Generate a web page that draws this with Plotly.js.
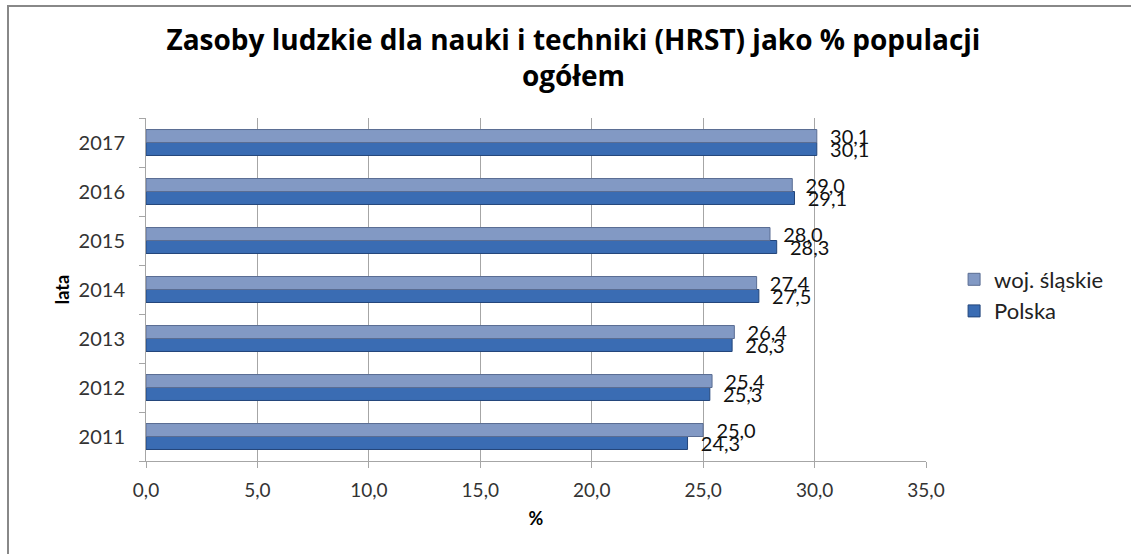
<!DOCTYPE html>
<html>
<head>
<meta charset="utf-8">
<script src="https://cdn.plot.ly/plotly-3.0.1.min.js"></script>
<style>
  html, body { margin: 0; padding: 0; background: #fff; }
  #wrap { position: relative; width: 1131px; height: 554px; overflow: hidden; }
  #chart { position: absolute; left: 0; top: 0; width: 1131px; height: 554px; }
  #frame { position: absolute; left: 7px; top: 5px; width: 1140px; height: 560px;
           border-left: 2px solid #888; border-top: 2px solid #888; pointer-events: none; }
</style>
</head>
<body>
<div id="wrap">
  <div id="chart"></div>
  <div id="frame"></div>
</div>
<script>
const years = ["2011", "2012", "2013", "2014", "2015", "2016", "2017"];
const polska = [24.3, 25.3, 26.3, 27.5, 28.3, 29.1, 30.1];
const slaskie = [25.0, 25.4, 26.4, 27.4, 28.0, 29.0, 30.1];
const xTicks = [0, 5, 10, 15, 20, 25, 30, 35];

const FAM = "Lato, 'Open Sans', sans-serif";
const labelFont = { family: FAM, size: 20, color: "#111" };

const traces = [
  {
    type: "bar", orientation: "h", name: "Polska",
    y: years, x: polska,
    marker: { color: "#3a6cb3", line: { color: "#23457a", width: 1 } },
    texttemplate: "\u00a0\u00a0%{x:.1f}", textposition: "outside",
    textfont: labelFont, constraintext: "none", cliponaxis: false,
    hoverinfo: "skip"
  },
  {
    type: "bar", orientation: "h", name: "woj. śląskie",
    y: years, x: slaskie,
    marker: { color: "#8299c4", line: { color: "#5a6d93", width: 1 } },
    texttemplate: "\u00a0\u00a0%{x:.1f}", textposition: "outside",
    textfont: labelFont, constraintext: "none", cliponaxis: false,
    hoverinfo: "skip"
  }
];

const layout = {
  width: 1131, height: 554,
  margin: { l: 146, r: 205, t: 118, b: 93 },
  paper_bgcolor: "#fff", plot_bgcolor: "#fff",
  separators: ", ",
  barmode: "group", bargap: 0.47, bargroupgap: 0,
  font: { family: FAM, color: "#333" },
  title: {
    text: "Zasoby ludzkie dla nauki i techniki (HRST) jako % populacji<br>ogółem",
    font: { family: "'Open Sans', Lato, sans-serif", size: 28, color: "#000", weight: "bold" },
    x: 0.507, xanchor: "center", y: 0.91, yanchor: "top"
  },
  xaxis: {
    range: [0, 35], tickvals: xTicks, tickformat: ".1f",
    showgrid: true, gridcolor: "#a6a6a6", gridwidth: 1,
    showline: true, linecolor: "#a6a6a6", linewidth: 1,
    ticks: "outside", ticklen: 6, tickcolor: "#a6a6a6",
    ticklabelstandoff: 6,
    tickfont: { size: 19, color: "#333", family: FAM },
    zeroline: false, fixedrange: true,
    title: { text: "%", font: { size: 18, color: "#000", weight: "bold" }, standoff: 12 }
  },
  yaxis: {
    type: "category", categoryorder: "array", categoryarray: years,
    showline: true, linecolor: "#a6a6a6", linewidth: 1,
    ticks: "outside", ticklen: 6, tickcolor: "#a6a6a6", tickson: "boundaries",
    ticklabelstandoff: 16,
    tickfont: { size: 20, color: "#333", family: FAM },
    showgrid: false, zeroline: false, fixedrange: true,
    title: { text: "lata", font: { size: 18, color: "#000", weight: "bold" }, standoff: 4 }
  },
  legend: {
    x: 1.036, xanchor: "left", y: 0.4825, yanchor: "middle",
    traceorder: "reversed",
    font: { size: 22, color: "#222", family: FAM },
    itemwidth: 30, tracegroupgap: 4,
    bgcolor: "rgba(0,0,0,0)"
  },
  showlegend: true
};

Plotly.newPlot("chart", traces, layout, { displayModeBar: false, staticPlot: true });
</script>
</body>
</html>
